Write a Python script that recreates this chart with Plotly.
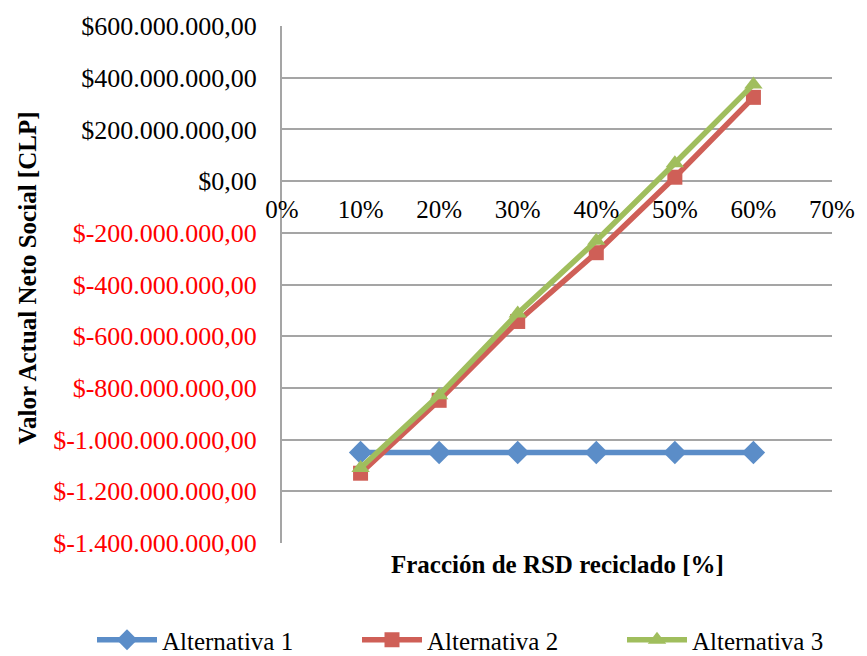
import plotly.graph_objects as go

# Fraction of recycled municipal solid waste (RSD)
fraccion = [0.10, 0.20, 0.30, 0.40, 0.50, 0.60]

# Social net present value per alternative [CLP]
alternativa_1 = [-1.05e9, -1.05e9, -1.05e9, -1.05e9, -1.05e9, -1.05e9]
alternativa_2 = [-1.13e9, -0.848e9, -0.543e9, -0.277e9, 0.015e9, 0.324e9]
alternativa_3 = [-1.11e9, -0.828e9, -0.512e9, -0.231e9, 0.069e9, 0.374e9]

y_ticks = [-1.4e9, -1.2e9, -1.0e9, -0.8e9, -0.6e9, -0.4e9, -0.2e9, 0, 0.2e9, 0.4e9, 0.6e9]
x_ticks = [0.0, 0.1, 0.2, 0.3, 0.4, 0.5, 0.6, 0.7]
y_range = [-1.4e9, 0.6e9]

FONT = "Liberation Serif, Times New Roman, DejaVu Serif, serif"
FS = 25

# figure geometry (pixels)
W, H = 867, 656
M_L, M_R, M_T, M_B = 282, 29, 24, 113
PAPER_W = W - M_L - M_R
PAPER_H = H - M_T - M_B


def px_x(px):
    return (px - M_L) / PAPER_W


def px_y(py):
    return (H - M_B - py) / PAPER_H


# the category axis crosses the value axis at zero
x_axis_pos = (0 - y_range[0]) / (y_range[1] - y_range[0])


def fmt_clp(v):
    s = f"{abs(v):,.2f}".replace(",", "X").replace(".", ",").replace("X", ".")
    if v < 0:
        return f"<span style='color:#FF0000'>$-{s}</span>"
    return f"${s}"


series = [
    ("Alternativa 1", alternativa_1, "#5B8DC8", "diamond", 18, "legend"),
    ("Alternativa 2", alternativa_2, "#CF5F57", "square", 15, "legend2"),
    ("Alternativa 3", alternativa_3, "#A0BE5D", "triangle-up", 16, "legend3"),
]

fig = go.Figure()
for name, vals, color, symbol, size, leg in series:
    fig.add_trace(go.Scatter(
        x=fraccion, y=vals, name=name, mode="lines+markers",
        line=dict(color=color, width=5.5),
        marker=dict(symbol=symbol, size=size, color=color),
        legend=leg,
    ))

# one legend box per series, laid out in a row under the plot (container coordinates)
legend_common = dict(orientation="h", xref="container", yref="container",
                     yanchor="middle", y=(H - 640) / H, xanchor="left",
                     font=dict(family=FONT, size=FS, color="black"),
                     itemwidth=60, bgcolor="rgba(0,0,0,0)")
legend_left_px = [92, 357, 622]

fig.update_layout(
    width=W, height=H,
    margin=dict(l=M_L, r=M_R, t=M_T, b=M_B),
    paper_bgcolor="white", plot_bgcolor="white",
    font=dict(family=FONT, size=FS, color="black"),
    showlegend=True,
    legend=dict(legend_common, x=legend_left_px[0] / W),
    legend2=dict(legend_common, x=legend_left_px[1] / W),
    legend3=dict(legend_common, x=legend_left_px[2] / W),
    xaxis=dict(
        range=[0, 0.7], tickvals=x_ticks,
        ticktext=[f"{int(round(v * 100))}%" for v in x_ticks],
        showgrid=False, zeroline=False, showline=False,
        anchor="free", position=x_axis_pos,
        ticks="outside", ticklen=6, tickcolor="rgba(0,0,0,0)",
        tickfont=dict(family=FONT, size=FS, color="black"),
    ),
    yaxis=dict(
        range=y_range, tickvals=y_ticks,
        ticktext=[fmt_clp(v) for v in y_ticks],
        showgrid=True, gridcolor="#A5A5A5", gridwidth=2,
        zeroline=False, showline=True, linecolor="#A5A5A5", linewidth=2,
        ticks="", ticklabelstandoff=18,
        tickfont=dict(family=FONT, size=26, color="black"),
        domain=[0, 1],
    ),
    annotations=[
        dict(text="<b>Fracción de RSD reciclado [%]</b>", xref="paper", yref="paper",
             x=0.5, y=px_y(565), xanchor="center", yanchor="middle", showarrow=False,
             font=dict(family=FONT, size=FS)),
        dict(text="<b>Valor Actual Neto Social [CLP]</b>", xref="paper", yref="paper",
             x=px_x(24), y=px_y(277), xanchor="center", yanchor="middle", textangle=-90,
             showarrow=False, font=dict(family=FONT, size=FS)),
    ],
)

fig.write_html("out.html")
